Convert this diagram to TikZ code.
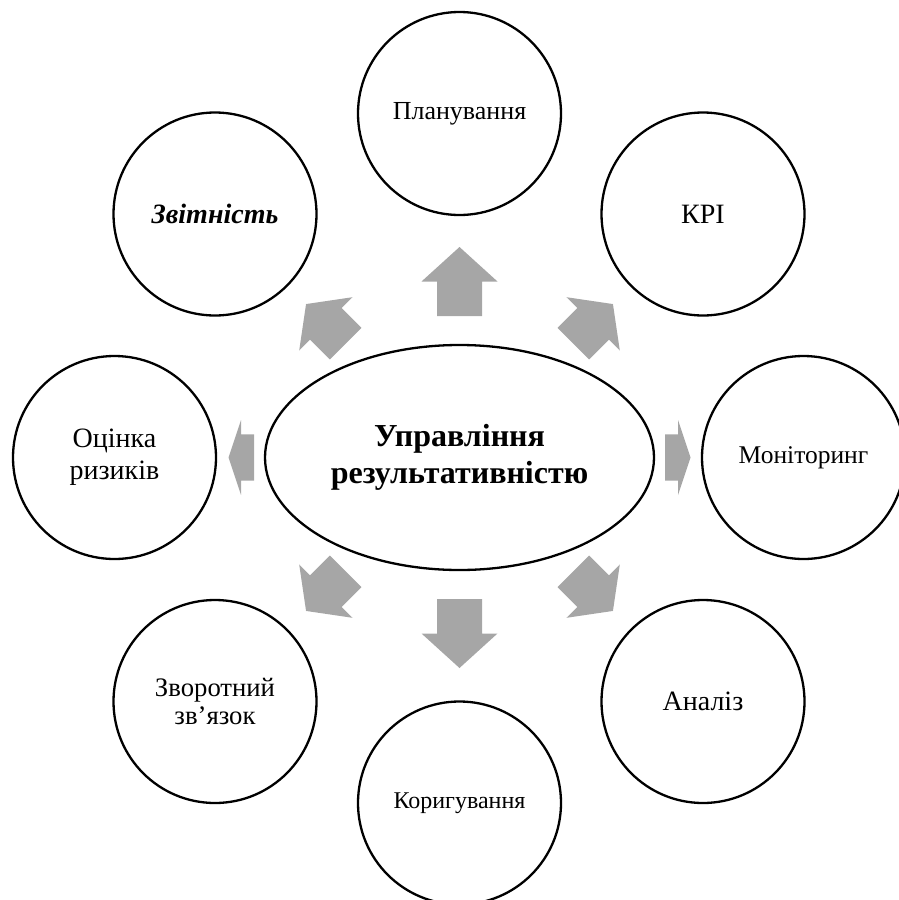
\documentclass[tikz,border=0pt]{standalone}
\usepackage{fontspec}
\setmainfont{Liberation Serif}
\usetikzlibrary{shapes.geometric}
\definecolor{arrowgray}{RGB}{166,166,166}
% block arrow: angle, shaft start, head base, tip, shaft half-width, head half-width
\newcommand{\blockarrow}[6]{%
  \fill[arrowgray, shift={(hub)}, rotate=#1]
    (#2pt,-#5pt) -- (#3pt,-#5pt) -- (#3pt,-#6pt) -- (#4pt,0pt) --
    (#3pt,#6pt) -- (#3pt,#5pt) -- (#2pt,#5pt) -- cycle;}
\begin{document}
\begin{tikzpicture}[x=1pt,y=-1pt,
  satellite/.style={circle, draw, line width=2.3pt, minimum size=203pt,
    inner sep=0pt, align=center},
  hubnode/.style={ellipse, draw, line width=2.3pt, minimum width=389pt,
    minimum height=225pt, inner sep=0pt, align=center}]
\clip (0,0) rectangle (899,900);
\coordinate (hub) at (459.5,457.5);

\node[hubnode, font=\fontsize{32}{36.8}\selectfont\bfseries] (centre) at (hub)
  {Управління\\результативністю};

\node[satellite, font=\fontsize{26}{30}\selectfont] (plan) at (459.5,113.5)
  {Планування};
\node[satellite, font=\fontsize{28}{32}\selectfont] (kpi) at (703,214)
  {КРІ};
\node[satellite, font=\fontsize{25.5}{29}\selectfont] (mon) at (803.5,457.5)
  {Моніторинг};
\node[satellite, font=\fontsize{28}{32}\selectfont] (anal) at (703,701.5)
  {Аналіз};
\node[satellite, font=\fontsize{24}{28}\selectfont] (kor) at (459.5,803)
  {Коригування};
\node[satellite, font=\fontsize{26.7}{28}\selectfont] (zvor) at (215,701.5)
  {Зворотний\\зв’язок};
\node[satellite, font=\fontsize{28}{32.3}\selectfont] (ocin) at (114.5,457.5)
  {Оцінка\\ризиків};
\node[satellite, font=\fontsize{28}{32}\selectfont\bfseries\itshape] (zvit) at (215,214)
  {Звітність};

% vertical arrows
\blockarrow{90}{141.5}{176}{210.5}{22.5}{38}
\blockarrow{-90}{141.5}{176}{210.5}{22.5}{38}
% diagonal arrows
\blockarrow{45}{161}{189}{217}{22.3}{37.7}
\blockarrow{135}{161}{189}{217}{22.3}{37.7}
\blockarrow{-45}{161}{189}{217}{22.3}{37.7}
\blockarrow{-135}{161}{189}{217}{22.3}{37.7}
% horizontal arrows
\blockarrow{0}{205.5}{218.5}{231}{23.2}{37.5}
\blockarrow{180}{205.5}{218.5}{231}{23.2}{37.5}
\end{tikzpicture}
\end{document}
